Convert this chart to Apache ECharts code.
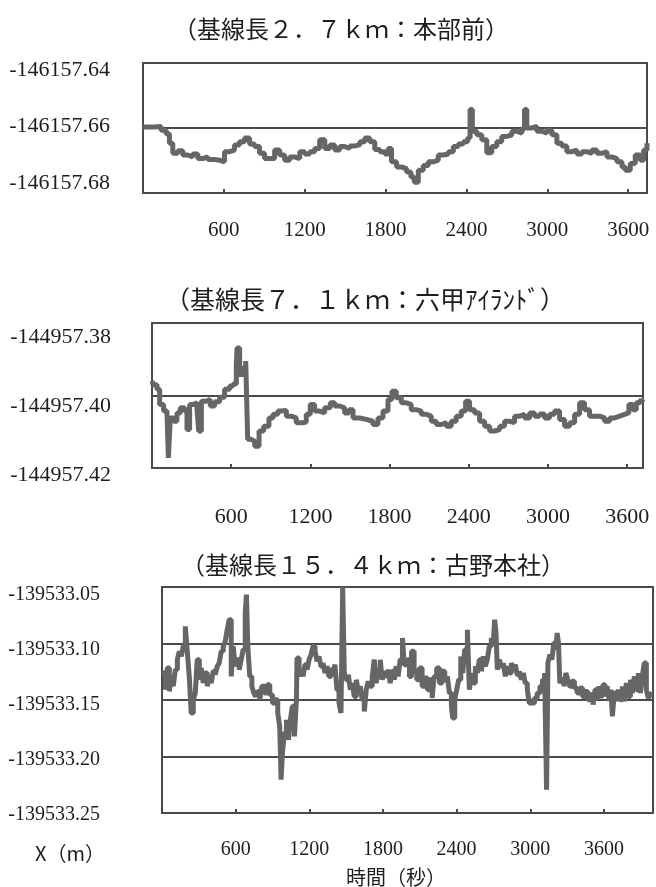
<!DOCTYPE html>
<html>
<head>
<meta charset="utf-8">
<script src="https://cdn.jsdelivr.net/npm/echarts@6/dist/echarts.min.js"></script>
<style>
  html, body { margin: 0; padding: 0; background: #fff; }
  #main { width: 656px; height: 887px; }
</style>
</head>
<body>
<div id="main"></div>
<script>
// 時刻(秒)と X 座標(m) ― 図から読み取った値
var base27 = [
  [0, -146157.6597], [22, -146157.6597], [84, -146157.6595], [134, -146157.6607], [171, -146157.6618],
  [196, -146157.6647], [221, -146157.6678], [258, -146157.6670], [295, -146157.6683], [332, -146157.6689],
  [369, -146157.6680], [407, -146157.6694], [444, -146157.6689], [481, -146157.6697], [530, -146157.6699],
  [568, -146157.6704], [605, -146157.6673], [642, -146157.6668], [679, -146157.6652], [716, -146157.6642],
  [754, -146157.6631], [791, -146157.6649], [828, -146157.6657], [865, -146157.6678], [902, -146157.6694],
  [940, -146157.6694], [977, -146157.6668], [1014, -146157.6683], [1051, -146157.6699], [1088, -146157.6689],
  [1125, -146157.6694], [1163, -146157.6673], [1200, -146157.6680], [1237, -146157.6673], [1274, -146157.6663],
  [1311, -146157.6636], [1349, -146157.6663], [1386, -146157.6652], [1423, -146157.6668], [1460, -146157.6657],
  [1497, -146157.6663], [1534, -146157.6655], [1572, -146157.6652], [1609, -146157.6642], [1646, -146157.6631],
  [1683, -146157.6642], [1720, -146157.6666], [1758, -146157.6673], [1795, -146157.6680], [1820, -146157.6663],
  [1844, -146157.6704], [1882, -146157.6720], [1919, -146157.6725], [1956, -146157.6735], [1988, -146157.6751],
  [2013, -146157.6767], [2043, -146157.6730], [2080, -146157.6715], [2117, -146157.6704], [2154, -146157.6699],
  [2191, -146157.6683], [2229, -146157.6680], [2266, -146157.6673], [2303, -146157.6657], [2340, -146157.6649],
  [2377, -146157.6642], [2409, -146157.6631], [2427, -146157.6543], [2444, -146157.6610], [2477, -146157.6621],
  [2514, -146157.6636], [2551, -146157.6676], [2588, -146157.6657], [2625, -146157.6642], [2662, -146157.6626],
  [2700, -146157.6621], [2737, -146157.6610], [2774, -146157.6616], [2811, -146157.6603], [2831, -146157.6543],
  [2848, -146157.6600], [2885, -146157.6595], [2923, -146157.6610], [2960, -146157.6616], [2997, -146157.6607],
  [3034, -146157.6621], [3071, -146157.6647], [3108, -146157.6655], [3145, -146157.6673], [3182, -146157.6668],
  [3220, -146157.6680], [3257, -146157.6673], [3294, -146157.6678], [3331, -146157.6668], [3368, -146157.6678],
  [3405, -146157.6673], [3443, -146157.6689], [3480, -146157.6694], [3517, -146157.6704], [3554, -146157.6720],
  [3579, -146157.6730], [3616, -146157.6709], [3653, -146157.6683], [3690, -146157.6699], [3715, -146157.6668],
  [3740, -146157.6647]
];

var base71 = [
  [0, -144957.3960], [8, -144957.3970], [38, -144957.3983], [58, -144957.4025], [88, -144957.4043],
  [114, -144957.4052], [124, -144957.4172], [139, -144957.4062], [164, -144957.4071], [189, -144957.4048],
  [215, -144957.4034], [247, -144957.4043], [265, -144957.4094], [285, -144957.4025], [316, -144957.4020],
  [341, -144957.4039], [354, -144957.4098], [374, -144957.4016], [412, -144957.4011], [442, -144957.4029],
  [475, -144957.4017], [513, -144957.4005], [550, -144957.3983], [588, -144957.3974], [614, -144957.3968],
  [639, -144957.3914], [644, -144957.3869], [664, -144957.3942], [689, -144957.3924], [710, -144957.3905],
  [725, -144957.4121], [752, -144957.4126], [778, -144957.4140], [811, -144957.4098], [846, -144957.4085],
  [886, -144957.4062], [917, -144957.4052], [954, -144957.4043], [980, -144957.4041], [1018, -144957.4057],
  [1055, -144957.4062], [1093, -144957.4075], [1139, -144957.4073], [1169, -144957.4052], [1199, -144957.4025],
  [1232, -144957.4043], [1270, -144957.4048], [1308, -144957.4034], [1351, -144957.4020], [1384, -144957.4029],
  [1422, -144957.4034], [1459, -144957.4048], [1492, -144957.4039], [1523, -144957.4062], [1573, -144957.4066],
  [1624, -144957.4071], [1674, -144957.4080], [1712, -144957.4062], [1750, -144957.4043], [1788, -144957.4011],
  [1818, -144957.3988], [1851, -144957.4006], [1889, -144957.4020], [1927, -144957.4025], [1964, -144957.4039],
  [2002, -144957.4043], [2040, -144957.4052], [2078, -144957.4057], [2116, -144957.4071], [2154, -144957.4080],
  [2192, -144957.4075], [2230, -144957.4085], [2267, -144957.4071], [2305, -144957.4057], [2343, -144957.4043],
  [2376, -144957.4016], [2406, -144957.4039], [2444, -144957.4048], [2482, -144957.4071], [2520, -144957.4085],
  [2558, -144957.4098], [2596, -144957.4094], [2634, -144957.4085], [2671, -144957.4071], [2709, -144957.4075],
  [2747, -144957.4057], [2785, -144957.4052], [2823, -144957.4062], [2861, -144957.4048], [2899, -144957.4057],
  [2937, -144957.4051], [2974, -144957.4062], [3012, -144957.4052], [3050, -144957.4043], [3088, -144957.4066],
  [3126, -144957.4085], [3164, -144957.4075], [3202, -144957.4052], [3240, -144957.4020], [3277, -144957.4039],
  [3315, -144957.4057], [3353, -144957.4057], [3391, -144957.4062], [3429, -144957.4071], [3467, -144957.4062],
  [3505, -144957.4057], [3543, -144957.4052], [3580, -144957.4048], [3613, -144957.4025], [3644, -144957.4039],
  [3669, -144957.4020], [3694, -144957.4025], [3707, -144957.4011], [3720, -144957.4020]
];

var base154 = [
  [0, -139533.1261], [11, -139533.1261], [27, -139533.1409], [43, -139533.1217], [60, -139533.1423],
  [76, -139533.1291], [92, -139533.1379], [108, -139533.1232], [125, -139533.1143], [141, -139533.1069],
  [157, -139533.1114], [173, -139533.1025], [190, -139533.0848], [206, -139533.1069], [222, -139533.1291],
  [238, -139533.1615], [255, -139533.1497], [271, -139533.1438], [287, -139533.1143], [304, -139533.1320],
  [320, -139533.1217], [336, -139533.1350], [352, -139533.1261], [369, -139533.1379], [385, -139533.1291],
  [401, -139533.1350], [417, -139533.1246], [434, -139533.1276], [450, -139533.1202], [466, -139533.1173],
  [482, -139533.1069], [499, -139533.1025], [515, -139533.0981], [531, -139533.0878], [547, -139533.0789],
  [564, -139533.1291], [580, -139533.1025], [596, -139533.1202], [612, -139533.1143], [629, -139533.1232],
  [645, -139533.1143], [661, -139533.1055], [678, -139533.0730], [688, -139533.0568], [699, -139533.1025],
  [715, -139533.1291], [732, -139533.1379], [748, -139533.1438], [764, -139533.1468], [780, -139533.1424],
  [797, -139533.1497], [813, -139533.1379], [835, -139533.1438], [856, -139533.1365], [878, -139533.1453],
  [900, -139533.1527], [921, -139533.1497], [943, -139533.1615], [959, -139533.1733], [970, -139533.2205],
  [981, -139533.1969], [997, -139533.1792], [1014, -139533.1674], [1030, -139533.1851], [1046, -139533.1674],
  [1062, -139533.1556], [1079, -139533.1822], [1095, -139533.1497], [1100, -139533.1128], [1117, -139533.1291],
  [1133, -139533.1232], [1149, -139533.1291], [1165, -139533.1187], [1182, -139533.1232], [1198, -139533.1143],
  [1214, -139533.1099], [1230, -139533.1025], [1247, -139533.1069], [1263, -139533.1158], [1279, -139533.1114],
  [1295, -139533.1202], [1312, -139533.1173], [1328, -139533.1261], [1344, -139533.1202], [1360, -139533.1291],
  [1377, -139533.1217], [1393, -139533.1261], [1409, -139533.1187], [1425, -139533.1409], [1442, -139533.1527],
  [1458, -139533.1615], [1472, -139533.0500], [1485, -139533.1261], [1501, -139533.1320], [1518, -139533.1276],
  [1534, -139533.1409], [1550, -139533.1350], [1566, -139533.1468], [1583, -139533.1320], [1599, -139533.1424],
  [1615, -139533.1379], [1631, -139533.1497], [1648, -139533.1601], [1664, -139533.1409], [1680, -139533.1335],
  [1696, -139533.1379], [1713, -139533.1291], [1729, -139533.1143], [1745, -139533.1350], [1761, -139533.1232],
  [1778, -139533.1143], [1794, -139533.1320], [1810, -139533.1261], [1827, -139533.1305], [1843, -139533.1232],
  [1859, -139533.1350], [1875, -139533.1246], [1892, -139533.1320], [1908, -139533.1202], [1924, -139533.1291],
  [1940, -139533.1143], [1959, -139533.0951], [1973, -139533.1187], [1995, -139533.1143], [2016, -139533.1291],
  [2033, -139533.1069], [2054, -139533.1246], [2076, -139533.1320], [2098, -139533.1217], [2119, -139533.1379],
  [2141, -139533.1305], [2163, -139533.1409], [2184, -139533.1320], [2201, -139533.1483], [2217, -139533.1291],
  [2238, -139533.1217], [2260, -139533.1350], [2282, -139533.1246], [2304, -139533.1320], [2325, -139533.1291],
  [2341, -139533.1438], [2358, -139533.1556], [2368, -139533.1659], [2385, -139533.1497], [2401, -139533.1409],
  [2417, -139533.1320], [2434, -139533.1114], [2450, -139533.1261], [2466, -139533.1055], [2488, -139533.0878],
  [2504, -139533.1409], [2520, -139533.1261], [2536, -139533.1350], [2553, -139533.1202], [2569, -139533.1261],
  [2585, -139533.1143], [2602, -139533.1246], [2618, -139533.1114], [2634, -139533.1202], [2650, -139533.1143],
  [2666, -139533.1025], [2683, -139533.0951], [2699, -139533.0996], [2710, -139533.0789], [2721, -139533.0907],
  [2732, -139533.1232], [2748, -139533.1143], [2764, -139533.1202], [2781, -139533.1173], [2797, -139533.1291],
  [2813, -139533.1202], [2829, -139533.1261], [2846, -139533.1173], [2862, -139533.1232], [2878, -139533.1187],
  [2894, -139533.1276], [2911, -139533.1246], [2927, -139533.1320], [2943, -139533.1261], [2959, -139533.1350],
  [2976, -139533.1409], [2992, -139533.1527], [3014, -139533.1527], [3035, -139533.1483], [3057, -139533.1438],
  [3079, -139533.1379], [3100, -139533.1320], [3117, -139533.1261], [3133, -139533.2294], [3144, -139533.1173],
  [3160, -139533.1099], [3176, -139533.1143], [3192, -139533.0996], [3209, -139533.1055], [3219, -139533.0907],
  [3230, -139533.0996], [3241, -139533.1350], [3257, -139533.1320], [3274, -139533.1379], [3290, -139533.1261],
  [3306, -139533.1320], [3322, -139533.1379], [3339, -139533.1335], [3360, -139533.1394], [3382, -139533.1438],
  [3404, -139533.1394], [3426, -139533.1468], [3447, -139533.1424], [3469, -139533.1497], [3490, -139533.1453],
  [3512, -139533.1541], [3528, -139533.1409], [3545, -139533.1497], [3561, -139533.1379], [3577, -139533.1483],
  [3593, -139533.1365], [3610, -139533.1468], [3626, -139533.1379], [3642, -139533.1497], [3658, -139533.1409],
  [3669, -139533.1645], [3685, -139533.1438], [3702, -139533.1512], [3718, -139533.1409], [3734, -139533.1497],
  [3751, -139533.1379], [3767, -139533.1512], [3783, -139533.1350], [3799, -139533.1468], [3816, -139533.1320],
  [3832, -139533.1438], [3848, -139533.1291], [3864, -139533.1409], [3881, -139533.1261], [3897, -139533.1438],
  [3913, -139533.1291], [3929, -139533.1173], [3946, -139533.1409], [3962, -139533.1483], [3978, -139533.1453],
  [3994, -139533.1438]
];

var titles = ['（基線長２．７ｋｍ：本部前）', '（基線長７．１ｋｍ：六甲ｱｲﾗﾝﾄﾞ）', '（基線長１５．４ｋｍ：古野本社）'];
var yMin = [-146157.68, -144957.42, -139533.25];
var yMax = [-146157.64, -144957.38, -139533.05];
var yStep = [0.02, 0.02, 0.05];
var xMax = [3740, 3720, 4000];
var timeStep = 600;

var serif = "'Liberation Serif', 'DejaVu Serif', serif";
var cjk = "'Noto Sans CJK JP', sans-serif";
var ink = '#1e1e1e';
var frame = '#4a4a4a';

// 枠(グラフ本体)と、左側の目盛ラベル用の見えないグリッド
var boxes = [
  {left: 143, top: 63, width: 504, height: 130},
  {left: 152, top: 323, width: 491, height: 145},
  {left: 162, top: 587, width: 493, height: 226}
];
var labelBoxes = [
  {left: 110, top: 70, width: 10, height: 113, font: 22},
  {left: 111, top: 337, width: 10, height: 138, font: 22},
  {left: 100, top: 595, width: 10, height: 220, font: 20}
];
var xLabel = [{margin: 27, font: 21}, {margin: 38, font: 22}, {margin: 27, font: 20}];
var titlePos = [[336, 26, 24], [360, 296, 25], [368, 562, 24]];

var myChart = echarts.init(document.getElementById('main'));

var grid = [], xAxis = [], yAxis = [], series = [], title = [];
var datas = [base27, base71, base154];

for (var i = 0; i < 3; i++) {
  grid.push({
    left: boxes[i].left, top: boxes[i].top, width: boxes[i].width, height: boxes[i].height,
    show: true, borderColor: frame, borderWidth: 2, backgroundColor: 'transparent'
  });
  xAxis.push({
    type: 'value', gridIndex: i, min: 0, max: xMax[i], interval: timeStep,
    axisLine: {show: false},
    axisTick: {show: true, inside: true, length: 4, lineStyle: {color: frame, width: 2}},
    axisLabel: {
      margin: xLabel[i].margin, fontSize: xLabel[i].font, fontFamily: serif, color: ink,
      formatter: function (v) { return (v > 0 && v % 600 === 0) ? String(v) : ''; }
    },
    splitLine: {show: false}
  });
  yAxis.push({
    type: 'value', gridIndex: i, min: yMin[i], max: yMax[i], interval: yStep[i],
    axisLine: {show: false}, axisTick: {show: false}, axisLabel: {show: false},
    splitLine: {show: true, lineStyle: {color: frame, width: 2}}
  });
  series.push({
    type: 'line', xAxisIndex: i, yAxisIndex: i, step: 'end',
    showSymbol: false, symbol: 'none',
    lineStyle: {color: '#666666', width: 5},
    data: datas[i]
  });
  title.push({
    text: titles[i], left: titlePos[i][0], top: titlePos[i][1] - titlePos[i][2] / 2 - 2,
    textAlign: 'center',
    textStyle: {fontFamily: cjk, fontWeight: 'normal', fontSize: titlePos[i][2], color: ink}
  });
}

for (var j = 0; j < 3; j++) {
  grid.push({left: labelBoxes[j].left, top: labelBoxes[j].top, width: labelBoxes[j].width, height: labelBoxes[j].height});
  xAxis.push({type: 'value', gridIndex: 3 + j, show: false, min: 0, max: 1});
  yAxis.push({
    type: 'value', gridIndex: 3 + j, min: yMin[j], max: yMax[j], interval: yStep[j],
    axisLine: {show: false}, axisTick: {show: false}, splitLine: {show: false},
    axisLabel: {
      margin: 0, fontSize: labelBoxes[j].font, fontFamily: serif, color: ink,
      formatter: function (v) { return v.toFixed(2); }
    }
  });
}

title.push({
  text: 'X（m）', left: 65, top: 838, textAlign: 'center',
  textStyle: {fontFamily: cjk, fontWeight: 'normal', fontSize: 20, color: ink}
});
title.push({
  text: '時間（秒）', left: 391, top: 862, textAlign: 'center',
  textStyle: {fontFamily: cjk, fontWeight: 'normal', fontSize: 20, color: ink}
});

var option = {
  backgroundColor: '#ffffff',
  animation: false,
  title: title,
  grid: grid,
  xAxis: xAxis,
  yAxis: yAxis,
  series: series
};
myChart.setOption(option);
</script>
</body>
</html>
